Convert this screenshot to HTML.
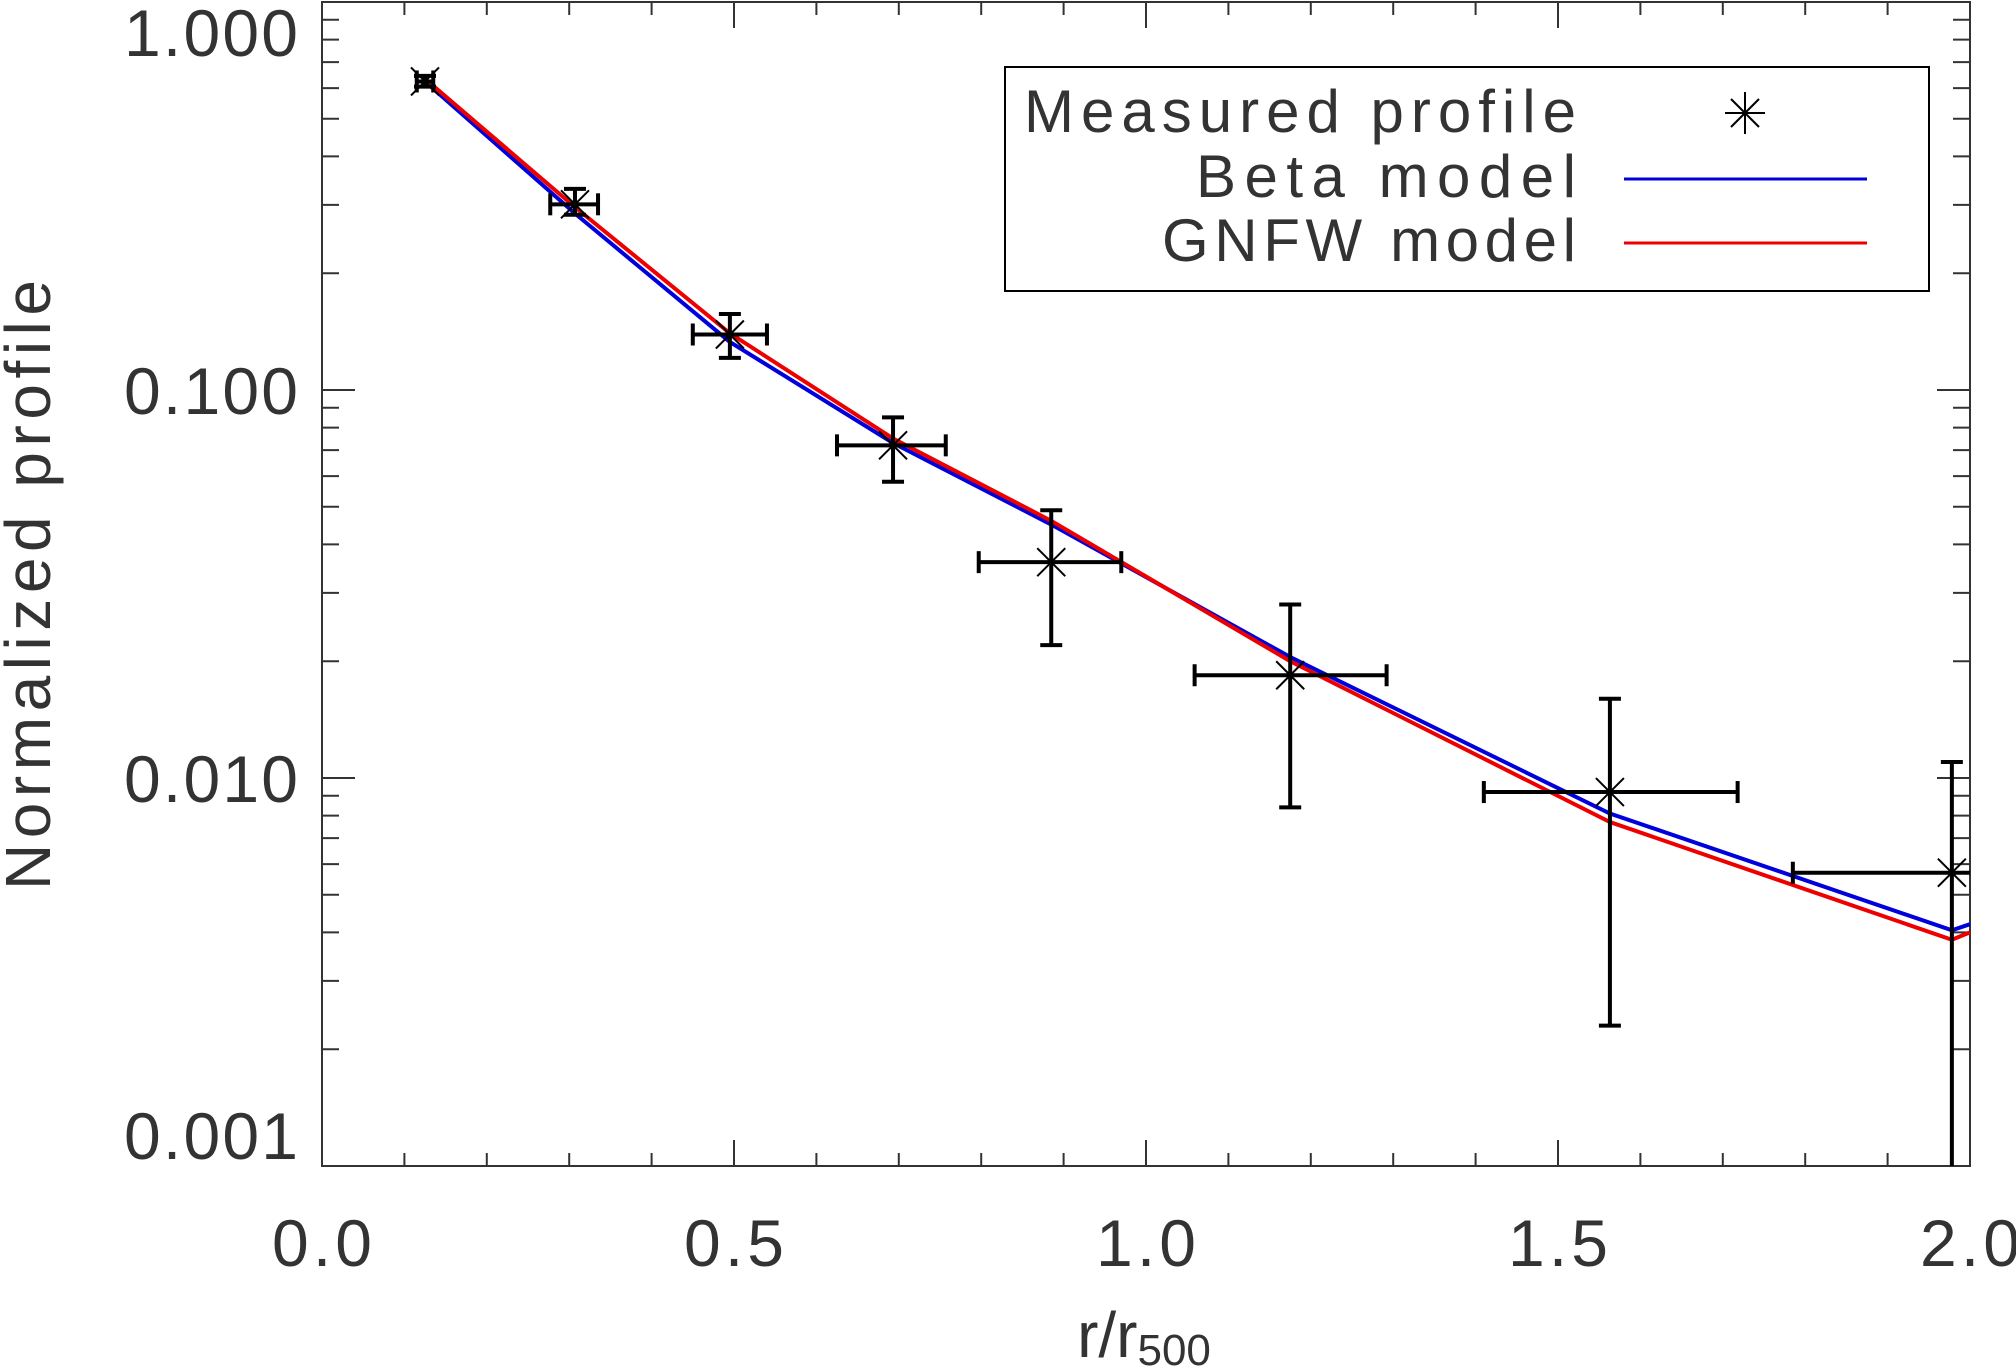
<!DOCTYPE html>
<html><head><meta charset="utf-8"><style>
html,body{margin:0;padding:0;background:#fff;}
svg{display:block;}
text{font-family:"Liberation Sans",sans-serif;fill:#333;}
</style></head><body>
<svg id="chart" width="2016" height="1367" viewBox="0 0 2016 1367" xmlns="http://www.w3.org/2000/svg">
<g id="axes"></g>
<g id="lines"></g>
<g id="points"></g>
<g id="legend">
  <rect x="1005" y="67" width="924" height="224" fill="none" stroke="#000" stroke-width="2"/>
  <text x="1576" y="132" font-size="60" text-anchor="end" textLength="552">Measured profile</text>
  <text x="1576" y="197" font-size="60" text-anchor="end" textLength="380">Beta model</text>
  <text x="1576" y="261" font-size="60" text-anchor="end" textLength="414">GNFW model</text>
  <g stroke="#000" stroke-width="2">
    <line x1="1745" y1="92" x2="1745" y2="134"/><line x1="1725" y1="113" x2="1765" y2="113"/>
    <line x1="1731" y1="99" x2="1759" y2="127"/><line x1="1731" y1="127" x2="1759" y2="99"/>
  </g>
  <line x1="1624" y1="179" x2="1867" y2="179" stroke="#0000dd" stroke-width="3"/>
  <line x1="1624" y1="243" x2="1867" y2="243" stroke="#ee0000" stroke-width="3"/>
</g>
<text x="1144" y="1357" font-size="64" text-anchor="middle">r/r<tspan font-size="44" dy="8">500</tspan></text>
<text transform="translate(50,585) rotate(-90)" font-size="64" text-anchor="middle" textLength="610">Normalized profile</text>
</svg>
<script>
const xVals=[0.125,0.307,0.495,0.693,0.885,1.175,1.563,1.978];
const yVals=[0.624,0.301,0.139,0.072,0.036,0.0184,0.0092,0.0057];
const yHi=[0.645,0.33,0.157,0.085,0.049,0.028,0.016,0.011];
const yLo=[0.605,0.283,0.121,0.058,0.022,0.0084,0.0023,0.0001];
const xLo=[0.115,0.277,0.45,0.625,0.797,1.059,1.41,1.785];
const xHi=[0.135,0.335,0.54,0.757,0.970,1.292,1.718,2.0];
const modelX=[0.125,0.307,0.495,0.693,0.885,1.175,1.563,1.978,2.0];
const betaY=[0.624,0.285,0.133,0.073,0.045,0.0205,0.0081,0.00405,0.0042];
const gnfwY=[0.634,0.296,0.140,0.075,0.046,0.020,0.0077,0.00383,0.0040];
const xTicks=["0.0","0.5","1.0","1.5","2.0"];
const yTicks=["1.000","0.100","0.010","0.001"];

const NS="http://www.w3.org/2000/svg";
const L=322,R=1970,T=2,B=1166;
const sx=v=>L+(R-L)*v/2;
const sy=v=>T+(B-T)*(-Math.log10(v))/3;
function mk(parent,tag,attrs){const e=document.createElementNS(NS,tag);for(const k in attrs)e.setAttribute(k,attrs[k]);parent.appendChild(e);return e;}
const axes=document.getElementById('axes');
const frame=mk(axes,'rect',{x:L,y:T,width:R-L,height:B-T,fill:'none',stroke:'#333','stroke-width':2});


for(let i=0;i<=20;i++){const v=i/10;const x=sx(v);const major=i%5===0;const len=major?26:13;
 const t1=mk(axes,'line',{x1:x,y1:B,x2:x,y2:B-len,stroke:'#333','stroke-width':2});
 
 
 const t2=mk(axes,'line',{x1:x,y1:T,x2:x,y2:T+len,stroke:'#333','stroke-width':2});
 
 }
xTicks.forEach((s,i)=>{const t=mk(axes,'text',{x:sx(parseFloat(s)),y:1266,'font-size':66,'text-anchor':'middle',textLength:100});t.textContent=s;
 
 });
for(let d=0;d<3;d++){for(let m=1;m<=10;m++){const v=m*Math.pow(10,-d-1);const y=sy(v);const major=(m===1||m===10);const len=major?33:17;
 const a=mk(axes,'line',{x1:L,y1:y,x2:L+len,y2:y,stroke:'#333','stroke-width':2});
 
 
 const b=mk(axes,'line',{x1:R,y1:y,x2:R-len,y2:y,stroke:'#333','stroke-width':2});
 
 }}
yTicks.forEach((s,i)=>{const y=sy(parseFloat(s));const t=mk(axes,'text',{x:298,y:(i===0?56:(i===3?1159:y+24)),'font-size':66,'text-anchor':'end',textLength:174});t.textContent=s;
 
 });
const lines=document.getElementById('lines');
const pts=arr=>modelX.map((x,i)=>sx(x)+','+sy(arr[i])).join(' ');
const bl=mk(lines,'polyline',{points:pts(betaY),fill:'none',stroke:'#0000dd','stroke-width':4});


const gl=mk(lines,'polyline',{points:pts(gnfwY),fill:'none',stroke:'#ee0000','stroke-width':4});


const pg=document.getElementById('points');
xVals.forEach((xv,i)=>{const g=mk(pg,'g',{stroke:'#000'});
 
 
 const x=sx(xv),y=sy(yVals[i]);
 const y1=sy(yHi[i]),y2=Math.min(sy(yLo[i]),B),x1=sx(xLo[i]),x2=Math.min(sx(xHi[i]),R);
 mk(g,'line',{x1:x,y1:y1,x2:x,y2:y2,'stroke-width':4});
 mk(g,'line',{x1:x-11,y1:y1,x2:x+11,y2:y1,'stroke-width':4});
 if(sy(yLo[i])<B) mk(g,'line',{x1:x-11,y1:y2,x2:x+11,y2:y2,'stroke-width':4});
 mk(g,'line',{x1:x1,y1:y,x2:x2,y2:y,'stroke-width':4});
 mk(g,'line',{x1:x1,y1:y-11,x2:x1,y2:y+11,'stroke-width':4});
 if(sx(xHi[i])<R) mk(g,'line',{x1:x2,y1:y-11,x2:x2,y2:y+11,'stroke-width':4});
 mk(g,'line',{x1:x-14,y1:y-14,x2:x+14,y2:y+14,'stroke-width':2});
 mk(g,'line',{x1:x-14,y1:y+14,x2:x+14,y2:y-14,'stroke-width':2});
});
</script>
</body></html>
